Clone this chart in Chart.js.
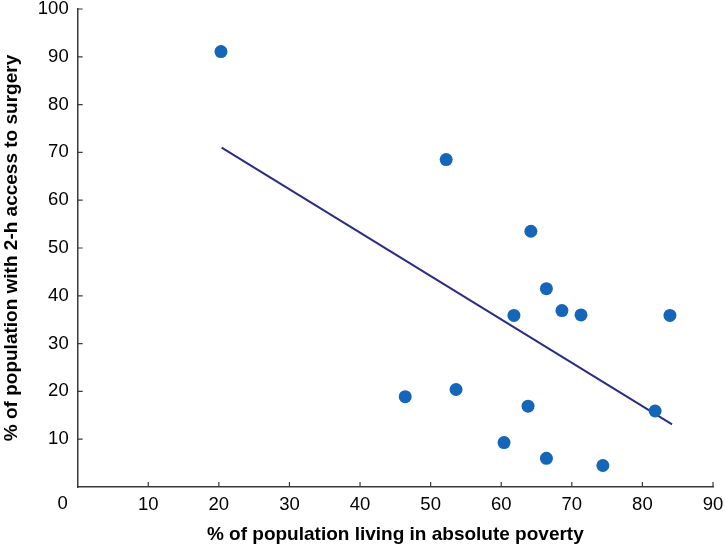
<!DOCTYPE html>
<html lang="en">
<head>
    <meta charset="UTF-8">
    <title>Poverty vs 2-h access to surgery</title>
    <script src="https://cdn.jsdelivr.net/npm/chart.js"></script>
    <style>
        html, body { margin: 0; padding: 0; background: #fff; }
        #chart { display: block; }
    </style>
</head>
<body>
    <canvas id="chart" width="725" height="546"></canvas>

    <script>
        // values
        const povertyPct = [20.3, 52.2, 64.2, 66.4, 61.8, 68.6, 71.3, 83.9, 46.4, 53.6, 63.8, 60.4, 66.4, 74.4, 81.8];
        const surgeryAccessPct = [91.1, 68.5, 53.5, 41.5, 35.9, 36.9, 36.0, 35.9, 18.9, 20.4, 16.9, 9.3, 6.0, 4.5, 15.9];

        // regression line ends
        const fitX = [20.4, 84.2];
        const fitY = [71.0, 13.1];

        const xTicks = [0, 10, 20, 30, 40, 50, 60, 70, 80, 90];
        const yTicks = [0, 10, 20, 30, 40, 50, 60, 70, 80, 90, 100];

        const xTitle = '% of population living in absolute poverty';
        const yTitle = '% of population with 2-h access to surgery';

        const FONT = "'Liberation Sans', Arial, Helvetica, sans-serif";
        const AXIS_COLOR = '#3a3a3a';

        // small ticks pointing into the plot, plus the lone "0" at the corner
        const innerTicks = {
            id: 'innerTicks',
            afterDraw(chart) {
                const ctx = chart.ctx;
                const xs = chart.scales.x;
                const ys = chart.scales.y;
                const area = chart.chartArea;
                ctx.save();
                ctx.strokeStyle = AXIS_COLOR;
                ctx.lineWidth = 1.2;
                ctx.beginPath();
                xTicks.forEach(v => {
                    if (v === 0) return;
                    const px = xs.getPixelForValue(v);
                    ctx.moveTo(px, area.bottom);
                    ctx.lineTo(px, area.bottom - 5);
                });
                yTicks.forEach(v => {
                    if (v === 0) return;
                    const py = ys.getPixelForValue(v);
                    ctx.moveTo(area.left, py);
                    ctx.lineTo(area.left + 5, py);
                });
                ctx.stroke();

                ctx.fillStyle = '#000';
                ctx.font = '18.5px ' + FONT;
                ctx.textAlign = 'right';
                ctx.textBaseline = 'middle';
                ctx.fillText('0', area.left - 10, area.bottom + 17);
                ctx.restore();
            }
        };

        new Chart(document.getElementById('chart').getContext('2d'), {
            type: 'scatter',
            data: {
                datasets: [{
                    label: 'Countries',
                    data: povertyPct.map((x, i) => ({ x: x, y: surgeryAccessPct[i] })),
                    backgroundColor: '#1565b8',
                    borderWidth: 0,
                    pointRadius: 6.5,
                    pointHoverRadius: 6.5
                }, {
                    type: 'line',
                    label: 'Fit',
                    data: fitX.map((x, i) => ({ x: x, y: fitY[i] })),
                    borderColor: '#2b2d84',
                    borderWidth: 2,
                    pointRadius: 0,
                    fill: false
                }]
            },
            options: {
                responsive: false,
                animation: false,
                layout: { padding: { top: 9, right: 12, bottom: 0, left: 0 } },
                plugins: {
                    legend: { display: false },
                    tooltip: { enabled: false }
                },
                scales: {
                    x: {
                        type: 'linear',
                        min: 0,
                        max: 90,
                        afterBuildTicks: s => { s.ticks = xTicks.map(v => ({ value: v })); },
                        // let the "90" label hang into the right margin
                        afterFit: s => { s.paddingRight = 0; },
                        grid: { display: false, drawTicks: false },
                        border: { display: true, color: AXIS_COLOR, width: 1.5 },
                        ticks: {
                            color: '#000',
                            padding: 7,
                            font: { family: FONT, size: 18.5 },
                            callback: v => (v === 0 ? '' : v)
                        },
                        title: {
                            display: true,
                            text: xTitle,
                            color: '#000',
                            font: { family: FONT, size: 19, weight: 'bold' },
                            padding: { top: 0, bottom: 0 }
                        }
                    },
                    y: {
                        type: 'linear',
                        min: 0,
                        max: 100,
                        afterBuildTicks: s => { s.ticks = yTicks.map(v => ({ value: v })); },
                        // "100" sits right at the top edge
                        afterFit: s => { s.paddingTop = 0; },
                        grid: { display: false, drawTicks: false },
                        border: { display: true, color: AXIS_COLOR, width: 1.5 },
                        ticks: {
                            color: '#000',
                            padding: 9,
                            font: { family: FONT, size: 18.5 },
                            callback: v => (v === 0 ? '' : v)
                        },
                        title: {
                            display: true,
                            text: yTitle,
                            color: '#000',
                            font: { family: FONT, size: 19, weight: 'bold' },
                            padding: { top: 0, bottom: 6 }
                        }
                    }
                }
            },
            plugins: [innerTicks]
        });
    </script>
</body>
</html>
